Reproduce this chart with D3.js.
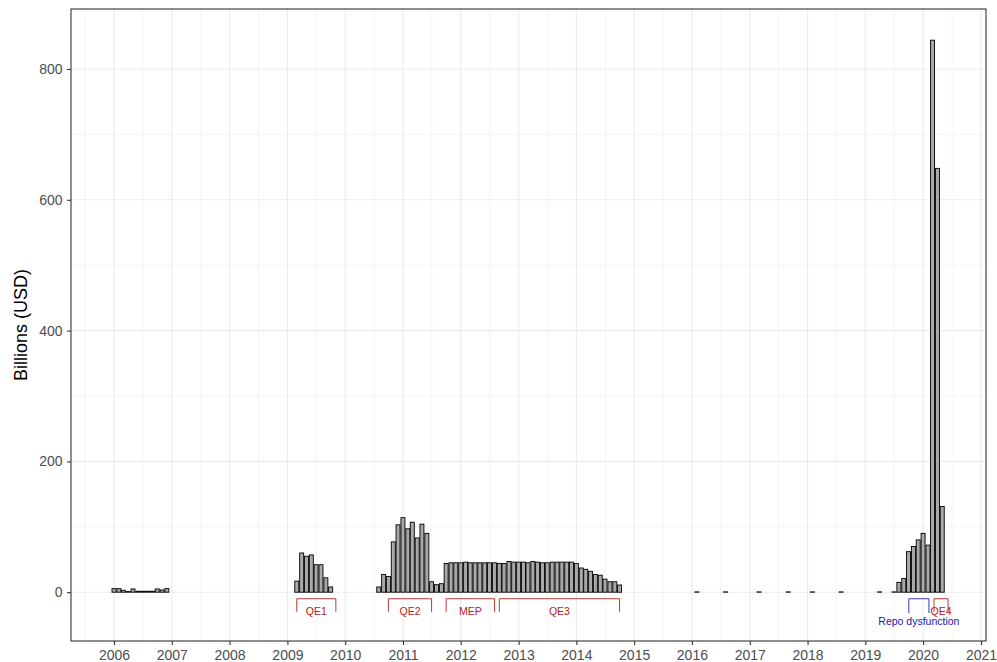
<!DOCTYPE html>
<html>
<head>
<meta charset="utf-8">
<script src="https://cdn.jsdelivr.net/npm/d3@7"></script>
<style>
  html, body { margin: 0; padding: 0; background: #ffffff; }
  svg { display: block; font-family: "Liberation Sans", Arial, Helvetica, sans-serif; }
</style>
</head>
<body>
<svg id="chart" width="997" height="662"></svg>
<script>
// Monthly Treasury purchases (billions of USD)
const months = [
  "2006-01","2006-02","2006-03","2006-04","2006-05","2006-06","2006-07","2006-08","2006-09","2006-10","2006-11","2006-12",
  "2009-03","2009-04","2009-05","2009-06","2009-07","2009-08","2009-09","2009-10",
  "2010-08","2010-09","2010-10","2010-11","2010-12",
  "2011-01","2011-02","2011-03","2011-04","2011-05","2011-06","2011-07","2011-08","2011-09","2011-10","2011-11","2011-12",
  "2012-01","2012-02","2012-03","2012-04","2012-05","2012-06","2012-07","2012-08","2012-09","2012-10","2012-11","2012-12",
  "2013-01","2013-02","2013-03","2013-04","2013-05","2013-06","2013-07","2013-08","2013-09","2013-10","2013-11","2013-12",
  "2014-01","2014-02","2014-03","2014-04","2014-05","2014-06","2014-07","2014-08","2014-09","2014-10",
  "2016-02","2016-08","2017-03","2017-09","2018-02","2018-08","2019-04","2019-07",
  "2019-08","2019-09","2019-10","2019-11","2019-12",
  "2020-01","2020-02","2020-03","2020-04","2020-05"
];
const purchases = [
  5.5, 5.5, 3, 1, 5, 1.5, 1.5, 1.5, 1.5, 5, 3.5, 5.5,
  17, 60, 55, 57, 42, 42, 22, 8,
  8, 27, 24, 77, 103,
  114, 97, 107, 83, 104, 90, 16, 11.5, 13, 44, 45, 45,
  45, 46, 45, 45, 45, 45, 45, 45, 44, 44, 47, 46,
  46, 46, 45, 47, 46, 45, 45, 46, 46, 46, 46, 46,
  44, 37, 35, 32, 27, 26, 20, 16, 16, 11,
  0.5, 0.5, 0.5, 0.5, 0.5, 0.5, 0.5, 0.5,
  15, 21, 62, 70, 80,
  90, 72, 844, 648, 131
];

// Programme brackets drawn under the bars
const programNames  = ["QE1", "QE2", "MEP", "QE3", "Repo dysfunction", "QE4"];
const programStarts = ["2009-03-01", "2010-10-01", "2011-10-01", "2012-09-01", "2019-10-03", "2020-03-10"];
const programEnds   = ["2009-11-03", "2011-07-01", "2012-08-02", "2014-10-01", "2020-02-07", "2020-06-07"];
const programGroup  = ["qe", "qe", "qe", "qe", "repo", "qe"];

const yTicks = [0, 200, 400, 600, 800];
const yLabel = "Billions (USD)";

const W = 997, H = 662;
const panel = { left: 71, right: 986, top: 9, bottom: 641 };
const DAY = 24 * 3600 * 1000;
const parseMonth = d3.utcParse("%Y-%m");
const parseDay = d3.utcParse("%Y-%m-%d");

const data = months.map((m, i) => ({ date: parseMonth(m), value: purchases[i] }));

// time scale pinned so that 2006-01-01 and 2021-01-01 land on their ticks
const t2006 = Date.UTC(2006, 0, 1), t2021 = Date.UTC(2021, 0, 1);
const pxPerMs = (981 - 114) / (t2021 - t2006);
const x = d3.scaleUtc()
  .domain([new Date(t2006 - (114 - panel.left) / pxPerMs), new Date(t2021 + (panel.right - 981) / pxPerMs)])
  .range([panel.left, panel.right]);

const y = d3.scaleLinear()
  .domain([-74.6, 891.7])
  .range([panel.bottom, panel.top]);

const svg = d3.select("#chart");
svg.append("rect").attr("width", W).attr("height", H).attr("fill", "#ffffff");

const grid = svg.append("g");
// minor grid: half-way between the major breaks
const years = d3.utcYear.range(new Date(Date.UTC(2005, 0, 1)), new Date(Date.UTC(2022, 0, 2)));
const xMinor = d3.pairs(years).map(([a, b]) => new Date((+a + +b) / 2))
  .filter(d => x(d) > panel.left && x(d) < panel.right);
const yMinor = d3.pairs(yTicks).map(([a, b]) => (a + b) / 2);

grid.selectAll("line.xminor").data(xMinor).join("line")
  .attr("x1", d => x(d)).attr("x2", d => x(d))
  .attr("y1", panel.top).attr("y2", panel.bottom)
  .attr("stroke", "#ebebeb").attr("stroke-width", 0.55);
grid.selectAll("line.yminor").data(yMinor).join("line")
  .attr("x1", panel.left).attr("x2", panel.right)
  .attr("y1", d => y(d)).attr("y2", d => y(d))
  .attr("stroke", "#ebebeb").attr("stroke-width", 0.55);

const xMajor = years.filter(d => x(d) > panel.left && x(d) < panel.right);
grid.selectAll("line.xmajor").data(xMajor).join("line")
  .attr("x1", d => x(d)).attr("x2", d => x(d))
  .attr("y1", panel.top).attr("y2", panel.bottom)
  .attr("stroke", "#ebebeb").attr("stroke-width", 1.1);
grid.selectAll("line.ymajor").data(yTicks).join("line")
  .attr("x1", panel.left).attr("x2", panel.right)
  .attr("y1", d => y(d)).attr("y2", d => y(d))
  .attr("stroke", "#ebebeb").attr("stroke-width", 1.1);

// bars: 0.9 of the shortest month spacing
const halfW = 0.9 * 28 * DAY / 2;
svg.append("g").selectAll("rect").data(data).join("rect")
  .attr("x", d => x(new Date(+d.date - halfW)))
  .attr("width", d => x(new Date(+d.date + halfW)) - x(new Date(+d.date - halfW)))
  .attr("y", d => y(d.value))
  .attr("height", d => y(0) - y(d.value))
  .attr("fill", "#a9a9a9")
  .attr("stroke", "#000000")
  .attr("stroke-width", 0.9);

// programme brackets
const colors = { qe: "#b22222", repo: "#2020a8" };
const progs = programNames.map((n, i) => ({
  name: n, start: parseDay(programStarts[i]), end: parseDay(programEnds[i]), group: programGroup[i]
}));
const ann = svg.append("g");
ann.selectAll("path").data(progs).join("path")
  .attr("d", d => {
    const lo = d.group === "repo" ? -32 : -30;
    return `M${x(d.start)},${y(lo)}V${y(-10)}H${x(d.end)}V${y(lo)}`;
  })
  .attr("fill", "none")
  .attr("stroke", d => colors[d.group])
  .attr("stroke-width", 0.9);
ann.selectAll("text").data(progs).join("text")
  .attr("x", d => (x(d.start) + x(d.end)) / 2)
  .attr("y", d => y(d.group === "repo" ? -44 : -29.5))
  .attr("dy", "0.35em")
  .attr("text-anchor", "middle")
  .attr("font-size", "10.5px")
  .attr("fill", d => colors[d.group])
  .text(d => d.name);

// panel border
svg.append("rect")
  .attr("x", panel.left).attr("y", panel.top)
  .attr("width", panel.right - panel.left).attr("height", panel.bottom - panel.top)
  .attr("fill", "none").attr("stroke", "#333333").attr("stroke-width", 1.1);

// axes
const xAxis = d3.axisBottom(x)
  .tickValues(d3.utcYear.range(new Date(Date.UTC(2006, 0, 1)), new Date(Date.UTC(2021, 0, 2))))
  .tickFormat(d3.utcFormat("%Y"))
  .tickSize(4).tickPadding(5);
const gx = svg.append("g").attr("transform", `translate(0,${panel.bottom})`).call(xAxis);
gx.select(".domain").remove();
gx.selectAll(".tick line").attr("stroke", "#333333").attr("stroke-width", 1.1);
gx.selectAll(".tick text").attr("fill", "#4d4d4d").attr("font-size", "14px")
  .attr("font-family", "Liberation Sans, Arial, sans-serif");

const yAxis = d3.axisLeft(y).tickValues(yTicks).tickSize(4).tickPadding(4.5);
const gy = svg.append("g").attr("transform", `translate(${panel.left},0)`).call(yAxis);
gy.select(".domain").remove();
gy.selectAll(".tick line").attr("stroke", "#333333").attr("stroke-width", 1.1);
gy.selectAll(".tick text").attr("fill", "#4d4d4d").attr("font-size", "14px")
  .attr("font-family", "Liberation Sans, Arial, sans-serif");

svg.append("text")
  .attr("transform", `translate(${27},${(panel.top + panel.bottom) / 2}) rotate(-90)`)
  .attr("text-anchor", "middle")
  .attr("font-size", "18px")
  .attr("fill", "#000000")
  .text(yLabel);
</script>
</body>
</html>
